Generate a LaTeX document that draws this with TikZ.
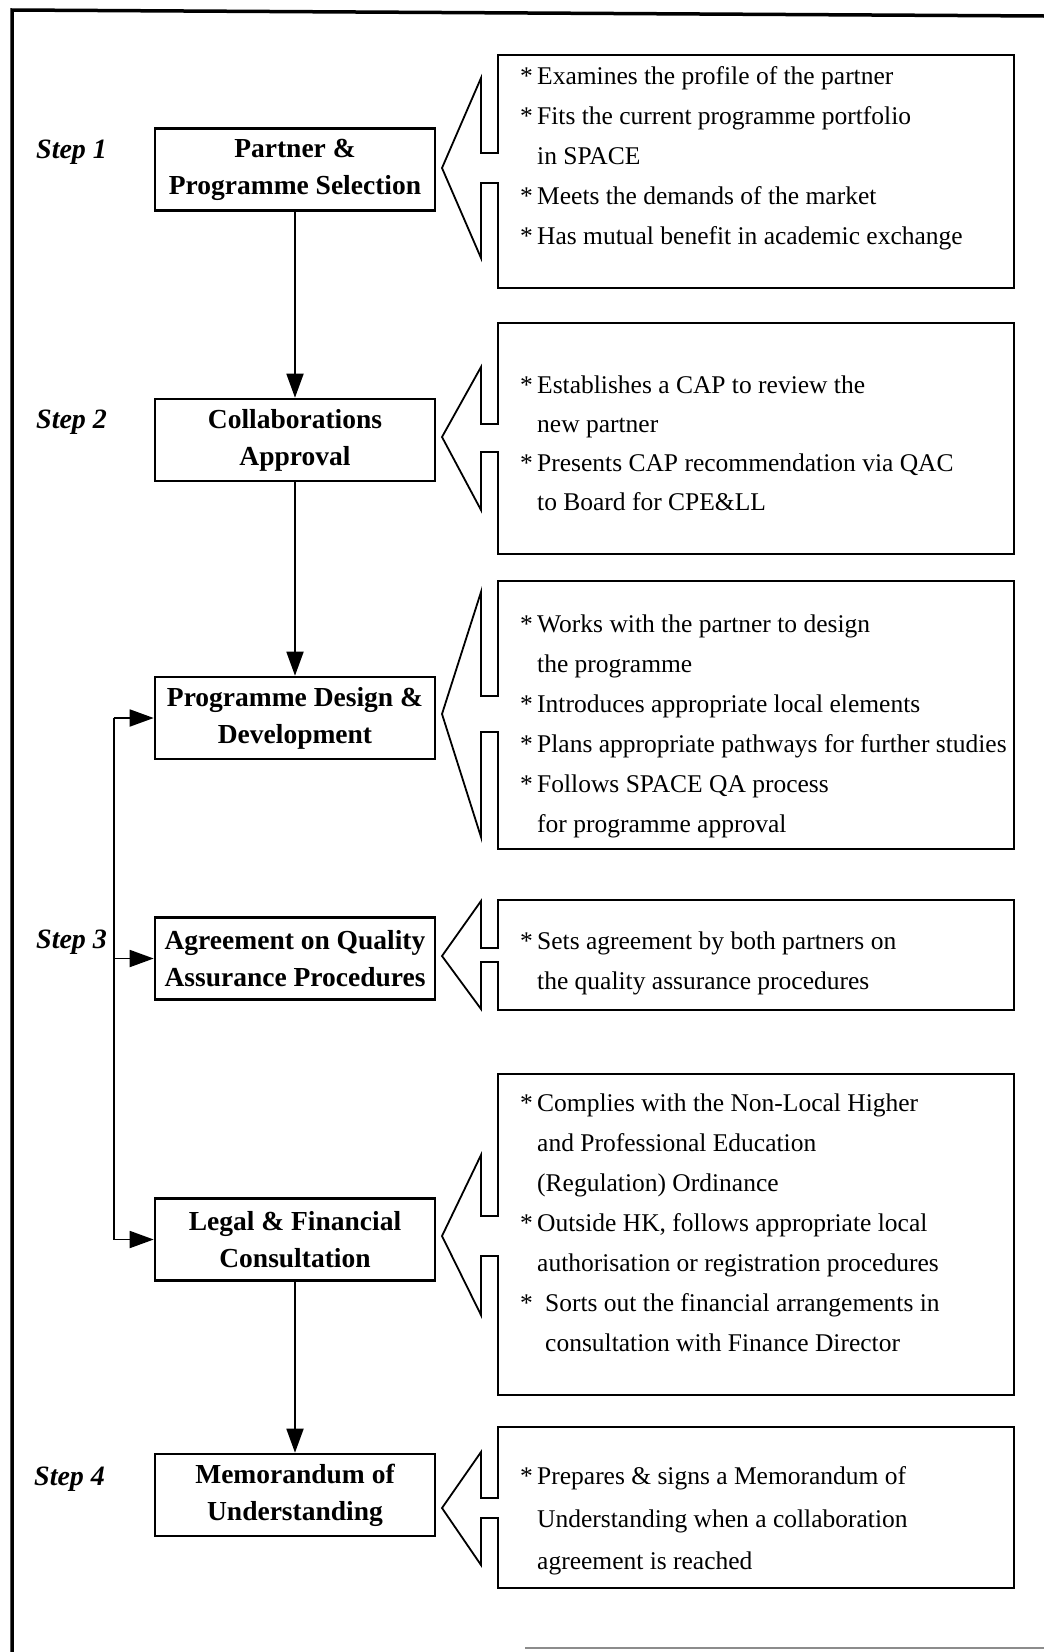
\documentclass[tikz,border=0pt]{standalone}
\usepackage{fontspec}
\setmainfont{Liberation Serif}
\usetikzlibrary{arrows.meta}
\newcommand\itm{\makebox[17pt][l]{*}}
\newcommand\itmw{\makebox[25pt][l]{*}}
\newcommand\cnt{\hspace*{17pt}}
\newcommand\cntw{\hspace*{25pt}}
\newcommand\calloutshape[7]{%
  \draw[callout] (498,#1) -- (1014,#1) -- (1014,#2) -- (498,#2) -- (498,#6) -- (481,#6)
    -- (481,#4) -- (442,#7) -- (481,#3) -- (481,#5) -- (498,#5) -- cycle;}
\begin{document}
\begin{tikzpicture}[x=1pt,y=-1pt,
  stepbox/.style={draw,line width=2.6pt,minimum width=280pt,minimum height=82pt,inner sep=0pt,
    align=center,font=\fontsize{27.5}{37}\selectfont\bfseries},
  steplabel/.style={anchor=west,inner sep=0pt,font=\fontsize{28}{32}\selectfont\bfseries\itshape},
  callout/.style={draw,line width=1.8pt,line join=miter},
  notes/.style={anchor=west,inner sep=0pt,align=left,font=\fontsize{25.5}{40}\selectfont},
  flow/.style={line width=1.8pt,-{Triangle[length=24pt,width=17pt]}},
]
\useasboundingbox (0,0) rectangle (1044,1652);

% frame
\draw[line width=3.5pt] (1044,16) -- (12,10) -- (12,1652);
\draw[line width=2pt,black!45] (525,1648) -- (1044,1648);

% step boxes
\node[stepbox] (b1) at (295,169.5) {Partner \&\\Programme Selection};
\node[stepbox] (b2) at (295,440) {Collaborations\\Approval};
\node[stepbox] (b3) at (295,718) {Programme Design \&\\Development};
\node[stepbox] (b4) at (295,958.5) {Agreement on Quality\\Assurance Procedures};
\node[stepbox] (b5) at (295,1239.5) {Legal \& Financial\\Consultation};
\node[stepbox] (b6) at (295,1495) {Memorandum of\\Understanding};

% step labels
\node[steplabel] (s1) at (36,152) {Step 1};
\node[steplabel] (s2) at (36,422) {Step 2};
\node[steplabel] (s3) at (36,942) {Step 3};
\node[steplabel] (s4) at (34,1479) {Step 4};

% connectors
\draw[flow] (b1.south) -- (b2.north);
\draw[flow] (b2.south) -- (b3.north);
\draw[flow] (b5.south) -- (b6.north);
\coordinate (j3) at ([xshift=-40pt]b3.west);
\coordinate (j4) at ([xshift=-40pt]b4.west);
\coordinate (j5) at ([xshift=-40pt]b5.west);
\draw[line width=1.8pt] (j3) -- (j5);
\draw[flow] (j3) -- (b3.west);
\draw[flow] (j4) -- (b4.west);
\draw[flow] (j5) -- (b5.west);

% callouts: top, bottom, head top, head bottom, notch1, notch2, apex y
\calloutshape{55}{288}{78}{258}{153}{183}{168}
\calloutshape{323}{554}{367}{510}{424}{452}{437}
\calloutshape{581}{849}{592}{837}{696}{732}{714}
\calloutshape{900}{1010}{901}{1009}{948}{962}{956}
\calloutshape{1074}{1395}{1155}{1315}{1216}{1256}{1236}
\calloutshape{1427}{1588}{1452}{1565}{1498}{1518}{1508}

% notes
\node[notes] (t1) at (520,158.5) {\itm Examines the profile of the partner\\
  \itm Fits the current programme portfolio\\
  \cnt in SPACE\\
  \itm Meets the demands of the market\\
  \itm Has mutual benefit in academic exchange};
\node[notes,font=\fontsize{25.5}{39}\selectfont] (t2) at (520,443) {\itm Establishes a CAP to review the\\
  \cnt new partner\\
  \itm Presents CAP recommendation via QAC\\
  \cnt to Board for CPE\&LL};
\node[notes] (t3) at (520,726) {\itm Works with the partner to design\\
  \cnt the programme\\
  \itm Introduces appropriate local elements\\
  \itm Plans appropriate pathways for further studies\\
  \itm Follows SPACE QA process\\
  \cnt for programme approval};
\node[notes] (t4) at (520,963) {\itm Sets agreement by both partners on\\
  \cnt the quality assurance procedures};
\node[notes] (t5) at (520,1223) {\itm Complies with the Non-Local Higher\\
  \cnt and Professional Education\\
  \cnt (Regulation) Ordinance\\
  \itm Outside HK, follows appropriate local\\
  \cnt authorisation or registration procedures\\
  \itmw Sorts out the financial arrangements in\\
  \cntw consultation with Finance Director};
\node[notes,font=\fontsize{25.5}{42.5}\selectfont] (t6) at (520,1521) {\itm Prepares \& signs a Memorandum of\\
  \cnt Understanding when a collaboration\\
  \cnt agreement is reached};
\end{tikzpicture}
\end{document}
